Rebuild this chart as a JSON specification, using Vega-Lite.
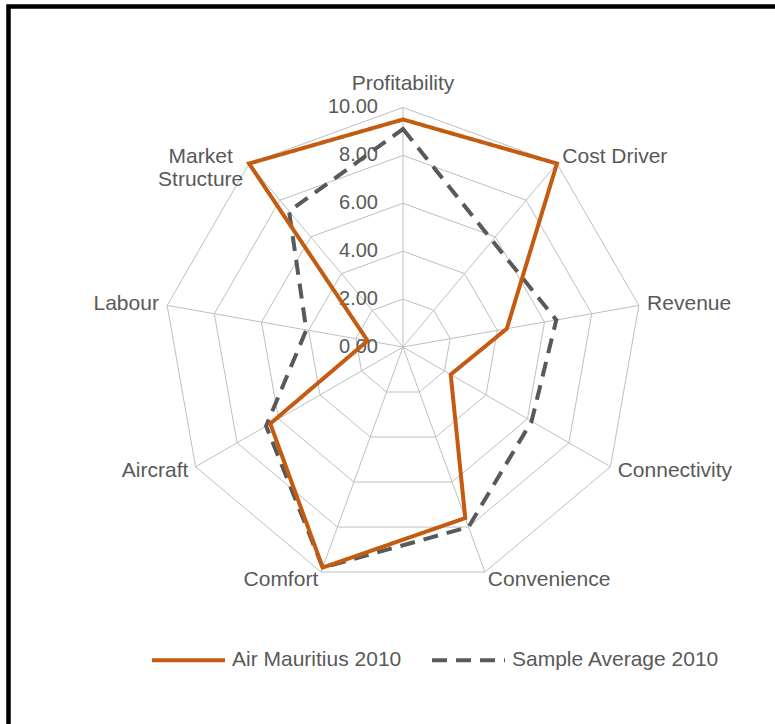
{
  "$schema": "https://vega.github.io/schema/vega-lite/v6.json",
  "width": 780,
  "height": 730,
  "autosize": {"type": "none"},
  "padding": {"left": 8.5, "top": 6.5, "right": 0, "bottom": 0},
  "background": "white",
  "config": {
    "view": {"stroke": "black", "strokeWidth": 4.5},
    "font": "Liberation Sans",
    "text": {"font": "Liberation Sans", "color": "#595959"},
    "legend": {"orient": "none", "legendX": 141.5, "legendY": 615, "direction": "horizontal", "title": null, "symbolType": "stroke", "symbolSize": 5329, "symbolStrokeWidth": 4, "labelFontSize": 21, "labelColor": "#595959", "labelFont": "Liberation Sans", "labelOffset": 5, "labelLimit": 400, "columnPadding": 22}
  },
  "datasets": {
    "axes": [
      {"axis": "Profitability", "idx": 0},
      {"axis": "Cost Driver", "idx": 1},
      {"axis": "Revenue", "idx": 2},
      {"axis": "Connectivity", "idx": 3},
      {"axis": "Convenience", "idx": 4},
      {"axis": "Comfort", "idx": 5},
      {"axis": "Aircraft", "idx": 6},
      {"axis": "Labour", "idx": 7},
      {"axis": "Market Structure", "idx": 8, "label": ["Market", "Structure"]}
    ],
    "rings": [
      {"level": 2, "idx": [0, 1, 2, 3, 4, 5, 6, 7, 8]},
      {"level": 4, "idx": [0, 1, 2, 3, 4, 5, 6, 7, 8]},
      {"level": 6, "idx": [0, 1, 2, 3, 4, 5, 6, 7, 8]},
      {"level": 8, "idx": [0, 1, 2, 3, 4, 5, 6, 7, 8]},
      {"level": 10, "idx": [0, 1, 2, 3, 4, 5, 6, 7, 8]}
    ],
    "ticks": [
      {"level": 0}, {"level": 2}, {"level": 4}, {"level": 6}, {"level": 8}, {"level": 10}
    ],
    "scores": [
      {"series": "Air Mauritius 2010", "axis": "Profitability", "idx": 0, "value": 9.5},
      {"series": "Air Mauritius 2010", "axis": "Cost Driver", "idx": 1, "value": 10.0},
      {"series": "Air Mauritius 2010", "axis": "Revenue", "idx": 2, "value": 4.4},
      {"series": "Air Mauritius 2010", "axis": "Connectivity", "idx": 3, "value": 2.3},
      {"series": "Air Mauritius 2010", "axis": "Convenience", "idx": 4, "value": 7.6},
      {"series": "Air Mauritius 2010", "axis": "Comfort", "idx": 5, "value": 9.8},
      {"series": "Air Mauritius 2010", "axis": "Aircraft", "idx": 6, "value": 6.4},
      {"series": "Air Mauritius 2010", "axis": "Labour", "idx": 7, "value": 1.5},
      {"series": "Air Mauritius 2010", "axis": "Market Structure", "idx": 8, "value": 10.0},
      {"series": "Sample Average 2010", "axis": "Profitability", "idx": 0, "value": 9.1},
      {"series": "Sample Average 2010", "axis": "Cost Driver", "idx": 1, "value": 5.8},
      {"series": "Sample Average 2010", "axis": "Revenue", "idx": 2, "value": 6.5},
      {"series": "Sample Average 2010", "axis": "Connectivity", "idx": 3, "value": 6.2},
      {"series": "Sample Average 2010", "axis": "Convenience", "idx": 4, "value": 8.0},
      {"series": "Sample Average 2010", "axis": "Comfort", "idx": 5, "value": 9.8},
      {"series": "Sample Average 2010", "axis": "Aircraft", "idx": 6, "value": 6.6},
      {"series": "Sample Average 2010", "axis": "Labour", "idx": 7, "value": 4.1},
      {"series": "Sample Average 2010", "axis": "Market Structure", "idx": 8, "value": 7.4}
    ]
  },
  "layer": [
    {
      "data": {"name": "rings"},
      "transform": [
        {"flatten": ["idx"]},
        {"calculate": "datum.level * sin(datum.idx * 2 * PI / 9)", "as": "px"},
        {"calculate": "datum.level * cos(datum.idx * 2 * PI / 9)", "as": "py"}
      ],
      "mark": {"type": "line", "interpolate": "linear-closed", "stroke": "#bfbfbf", "strokeWidth": 1},
      "encoding": {
        "x": {"field": "px", "type": "quantitative", "scale": {"domain": [-16.472, 16.096], "nice": false, "zero": false}, "axis": null},
        "y": {"field": "py", "type": "quantitative", "scale": {"domain": [-16.263, 14.217], "nice": false, "zero": false}, "axis": null},
        "detail": {"field": "level", "type": "nominal"},
        "order": {"field": "idx", "type": "quantitative"}
      }
    },
    {
      "data": {"name": "axes"},
      "transform": [
        {"calculate": "10 * sin(datum.idx * 2 * PI / 9)", "as": "px"},
        {"calculate": "10 * cos(datum.idx * 2 * PI / 9)", "as": "py"},
        {"calculate": "0", "as": "zero"}
      ],
      "mark": {"type": "rule", "stroke": "#bfbfbf", "strokeWidth": 1},
      "encoding": {
        "x": {"field": "zero", "type": "quantitative"},
        "y": {"field": "zero", "type": "quantitative"},
        "x2": {"field": "px"},
        "y2": {"field": "py"}
      }
    },
    {
      "data": {"name": "ticks"},
      "transform": [{"calculate": "0", "as": "zero"}],
      "mark": {"type": "text", "align": "right", "baseline": "middle", "dx": -25, "fontSize": 20, "color": "#595959"},
      "encoding": {
        "x": {"field": "zero", "type": "quantitative"},
        "y": {"field": "level", "type": "quantitative"},
        "text": {"field": "level", "type": "quantitative", "format": ".2f"}
      }
    },
    {
      "data": {"name": "axes"},
      "transform": [
        {"filter": "datum.idx == 0"},
        {"calculate": "10 * sin(datum.idx * 2 * PI / 9)", "as": "px"},
        {"calculate": "10 * cos(datum.idx * 2 * PI / 9)", "as": "py"}
      ],
      "mark": {"type": "text", "align": "center", "baseline": "middle", "dy": -23, "fontSize": 21, "color": "#595959"},
      "encoding": {
        "x": {"field": "px", "type": "quantitative"},
        "y": {"field": "py", "type": "quantitative"},
        "text": {"field": "axis", "type": "nominal"}
      }
    },
    {
      "data": {"name": "axes"},
      "transform": [
        {"filter": "datum.idx >= 1 && datum.idx <= 4"},
        {"calculate": "10.35 * sin(datum.idx * 2 * PI / 9)", "as": "px"},
        {"calculate": "10.35 * cos(datum.idx * 2 * PI / 9)", "as": "py"}
      ],
      "mark": {"type": "text", "align": "left", "baseline": "middle", "fontSize": 21, "color": "#595959"},
      "encoding": {
        "x": {"field": "px", "type": "quantitative"},
        "y": {"field": "py", "type": "quantitative"},
        "text": {"field": "axis", "type": "nominal"}
      }
    },
    {
      "data": {"name": "axes"},
      "transform": [
        {"filter": "datum.idx >= 5 && datum.idx <= 7"},
        {"calculate": "10.35 * sin(datum.idx * 2 * PI / 9)", "as": "px"},
        {"calculate": "10.35 * cos(datum.idx * 2 * PI / 9)", "as": "py"}
      ],
      "mark": {"type": "text", "align": "right", "baseline": "middle", "fontSize": 21, "color": "#595959"},
      "encoding": {
        "x": {"field": "px", "type": "quantitative"},
        "y": {"field": "py", "type": "quantitative"},
        "text": {"field": "axis", "type": "nominal"}
      }
    },
    {
      "data": {"name": "axes"},
      "transform": [
        {"filter": "datum.idx == 8"},
        {"calculate": "10.35 * sin(datum.idx * 2 * PI / 9)", "as": "px"},
        {"calculate": "10.35 * cos(datum.idx * 2 * PI / 9)", "as": "py"}
      ],
      "mark": {"type": "text", "align": "center", "baseline": "middle", "dx": -43, "fontSize": 21, "lineHeight": 23, "color": "#595959"},
      "encoding": {
        "x": {"field": "px", "type": "quantitative"},
        "y": {"field": "py", "type": "quantitative"},
        "text": {"field": "label", "type": "nominal"}
      }
    },
    {
      "data": {"name": "scores"},
      "transform": [
        {"filter": "datum.series == 'Sample Average 2010'"},
        {"calculate": "datum.value * sin(datum.idx * 2 * PI / 9)", "as": "px"},
        {"calculate": "datum.value * cos(datum.idx * 2 * PI / 9)", "as": "py"}
      ],
      "mark": {"type": "line", "interpolate": "linear-closed", "strokeWidth": 4},
      "encoding": {
        "x": {"field": "px", "type": "quantitative"},
        "y": {"field": "py", "type": "quantitative"},
        "order": {"field": "idx", "type": "quantitative"},
        "color": {"field": "series", "type": "nominal", "scale": {"domain": ["Air Mauritius 2010", "Sample Average 2010"], "range": ["#C55A11", "#595959"]}},
        "strokeDash": {"field": "series", "type": "nominal", "scale": {"domain": ["Air Mauritius 2010", "Sample Average 2010"], "range": [[1, 0], [15, 9]]}}
      }
    },
    {
      "data": {"name": "scores"},
      "transform": [
        {"filter": "datum.series == 'Air Mauritius 2010'"},
        {"calculate": "datum.value * sin(datum.idx * 2 * PI / 9)", "as": "px"},
        {"calculate": "datum.value * cos(datum.idx * 2 * PI / 9)", "as": "py"}
      ],
      "mark": {"type": "line", "interpolate": "linear-closed", "strokeWidth": 4},
      "encoding": {
        "x": {"field": "px", "type": "quantitative"},
        "y": {"field": "py", "type": "quantitative"},
        "order": {"field": "idx", "type": "quantitative"},
        "color": {"field": "series", "type": "nominal", "scale": {"domain": ["Air Mauritius 2010", "Sample Average 2010"], "range": ["#C55A11", "#595959"]}},
        "strokeDash": {"field": "series", "type": "nominal", "scale": {"domain": ["Air Mauritius 2010", "Sample Average 2010"], "range": [[1, 0], [15, 9]]}}
      }
    }
  ]
}
